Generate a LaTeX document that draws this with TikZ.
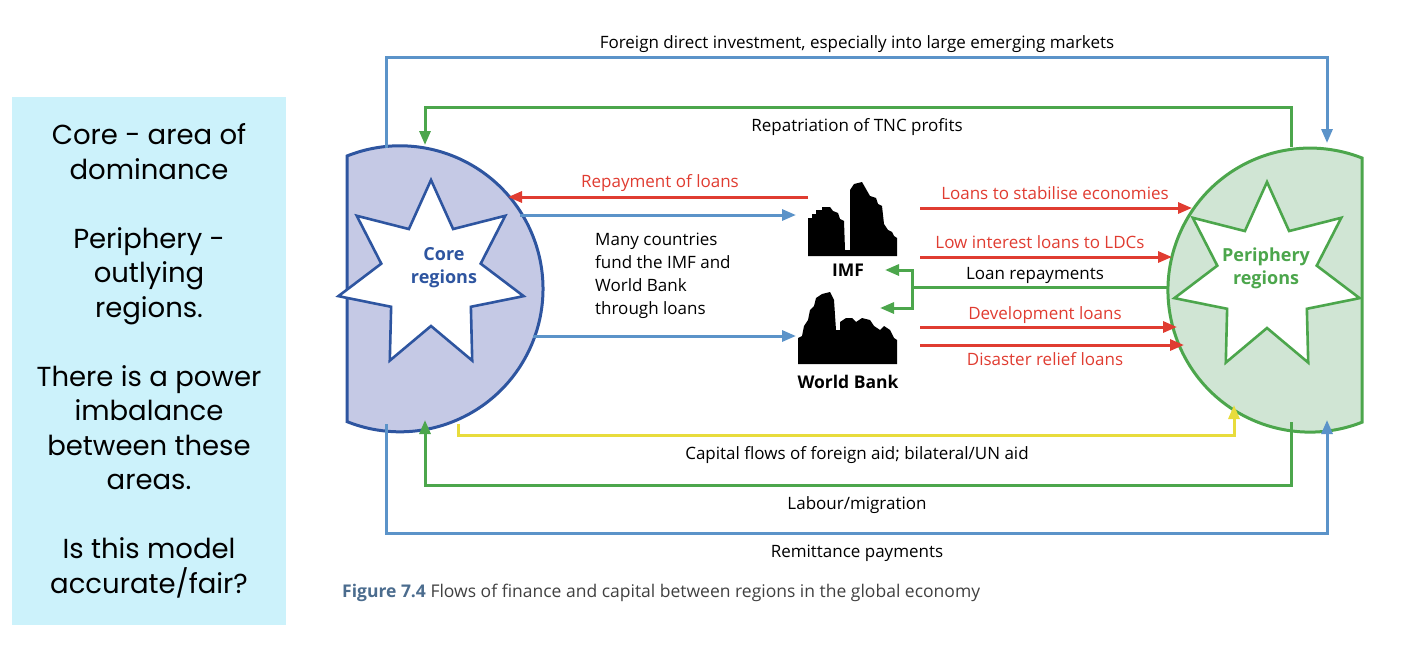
\documentclass[tikz,border=0pt]{standalone}
\usepackage{fontspec}
\setmainfont{Open Sans}
\newfontfamily\boxfont{Poppins}
\usetikzlibrary{arrows.meta}
\definecolor{fblue}{HTML}{5B93C9}
\definecolor{fgreen}{HTML}{4CA64C}
\definecolor{fred}{HTML}{E03C31}
\definecolor{fyellow}{HTML}{E8DC3C}
\definecolor{corefill}{HTML}{C5C9E5}
\definecolor{coreedge}{HTML}{2E55A0}
\definecolor{perfill}{HTML}{D0E5D4}
\definecolor{boxfill}{HTML}{CCF2FB}
\definecolor{capblue}{HTML}{4B6C8E}
\tikzset{
 flow/.style={line width=3pt,-{Triangle[length=14pt,width=11pt]}},
 lab/.style={font=\fontsize{17}{20}\selectfont,inner sep=0pt,anchor=base},
 redlab/.style={lab,text=fred},
 bld/.style={fill=black,draw=none},
 bldlab/.style={font=\fontsize{17.5}{20}\selectfont\bfseries,inner sep=0pt,anchor=base}
}
\begin{document}
\begin{tikzpicture}[x=1pt,y=-1pt]
\useasboundingbox (0,0) rectangle (1416,648);
% left box
\node[fill=boxfill,minimum width=274,minimum height=528,anchor=north west,inner sep=0pt] (box) at (12,97) {};
\node[font=\boxfont\fontsize{27.5}{34.5}\selectfont,align=center,text=black] (boxtxt) at (149,361)
 {Core - area of\\dominance\\[34.5pt]Periphery -\\outlying\\regions.\\[34.5pt]There is a power\\imbalance\\between these\\areas.\\[34.5pt]Is this model\\accurate/fair?};
% core and periphery shapes
\filldraw[fill=corefill,draw=coreedge,line width=3pt] (347,156) arc[start angle=-111.75,end angle=111.75,radius=143] -- cycle;
\filldraw[fill=perfill,draw=fgreen,line width=3pt] (1362,158) arc[start angle=-68.5,end angle=-291.5,radius=142] -- cycle;
\draw[coreedge,fill=white,line width=2.6pt,line join=miter,shift={(431,275)}] (-90:95) \foreach \i in {1,...,13}{ -- ({-90+\i*180/7}:{ifthenelse(mod(\i,2)==0,95,51)}) } -- cycle;
\draw[fgreen,fill=white,line width=2.6pt,line join=miter,shift={(1267,277)}] (-90:95) \foreach \i in {1,...,13}{ -- ({-90+\i*180/7}:{ifthenelse(mod(\i,2)==0,95,51)}) } -- cycle;
\node[font=\fontsize{18}{23}\selectfont\bfseries,text=coreedge,align=center] (core) at (444,268) {Core\\regions};
\node[font=\fontsize{18}{23}\selectfont\bfseries,text=fgreen,align=center] (peri) at (1266,268) {Periphery\\regions};
% buildings
\fill[bld] (808,256) -- (808,218) -- (812,218) -- (812,214) -- (816,214) -- (816,210) -- (822,210) -- (822,207) -- (830,207) -- (833,211) -- (838,213) -- (840,219) -- (844,221) -- (845,250) -- (850,250) -- (850,190) -- (854,184) -- (862,182) -- (866,189) -- (870,196) -- (876,198) -- (878,204) -- (882,206) -- (884,224) -- (888,230) -- (892,232) -- (894,236) -- (897,238) -- (897,256) -- cycle;
\fill[bld] (798,364) -- (798,338) -- (802,336) -- (804,326) -- (808,320) -- (810,310) -- (814,306) -- (816,298) -- (822,294) -- (830,292) -- (834,300) -- (836,330) -- (840,330) -- (840,322) -- (846,318) -- (852,318) -- (856,322) -- (862,318) -- (870,320) -- (874,326) -- (880,330) -- (884,326) -- (890,330) -- (894,338) -- (897,340) -- (897,364) -- cycle;
\node[bldlab] (imf) at (848,276) {IMF};
\node[bldlab] (wb) at (848,388) {World Bank};
% coordinates
\coordinate (ctopB) at (386,148); \coordinate (ptopB) at (1327,143);
\coordinate (ptopG) at (1291,147); \coordinate (ctopG) at (425,145);
\coordinate (cbotB) at (386,424); \coordinate (pbotB) at (1327,420);
\coordinate (pbotG) at (1291,422); \coordinate (cbotG) at (425,420);
\coordinate (cbotY) at (458,424); \coordinate (pbotY) at (1234,405);
% outer loops
\draw[flow,fblue] (ctopB) |- (857,57) -| (ptopB);
\draw[flow,fgreen] (ptopG) |- (857,107) -| (ctopG);
\draw[flow,fyellow] (cbotY) |- (857,435) -| (pbotY);
\draw[flow,fgreen] (pbotG) |- (857,485) -| (cbotG);
\draw[flow,fblue] (cbotB) |- (857,533) -| (pbotB);
\node[lab] (l1) at (857,48) {Foreign direct investment, especially into large emerging markets};
\node[lab] (l2) at (857,131) {Repatriation of TNC profits};
\node[lab] (l3) at (857,459) {Capital flows of foreign aid; bilateral/UN aid};
\node[lab] (l4) at (857,509) {Labour/migration};
\node[lab] (l5) at (857,557) {Remittance payments};
% core <-> IMF
\coordinate (imfR) at (808,197); \coordinate (coreR) at (508,197);
\draw[flow,fred] (imfR) -- (coreR);
\node[redlab] (rep) at (660,187) {Repayment of loans};
\draw[flow,fblue] (520,215) -- (796,215);
\draw[flow,fblue] (533,336) -- (796,336);
\node[font=\fontsize{17}{23}\selectfont,align=left,anchor=north west,inner sep=0pt] (many) at (595,233) {Many countries\\fund the IMF and\\World Bank\\through loans};
% right side
\draw[flow,fred] (920,208) -- (1192,208);
\node[redlab] (r1) at (1055,199) {Loans to stabilise economies};
\draw[flow,fred] (920,257) -- (1172,257);
\node[redlab] (r2) at (1040,248) {Low interest loans to LDCs};
\draw[line width=3pt,fgreen] (1169,287) -- (912,287);
\draw[flow,fgreen] (912,287) |- (885,270);
\draw[flow,fgreen] (912,287) |- (880,308);
\node[lab] (r3) at (1035,279) {Loan repayments};
\draw[flow,fred] (920,327) -- (1177,327);
\node[redlab] (r4) at (1045,319) {Development loans};
\draw[flow,fred] (920,345) -- (1184,345);
\node[redlab] (r5) at (1045,365) {Disaster relief loans};
% caption
\node[font=\fontsize{17.5}{20}\selectfont,anchor=base west,inner sep=0pt,text=black!75] (cap) at (342,597) {\textcolor{capblue}{\bfseries Figure 7.4} Flows of finance and capital between regions in the global economy};
\end{tikzpicture}
\end{document}
